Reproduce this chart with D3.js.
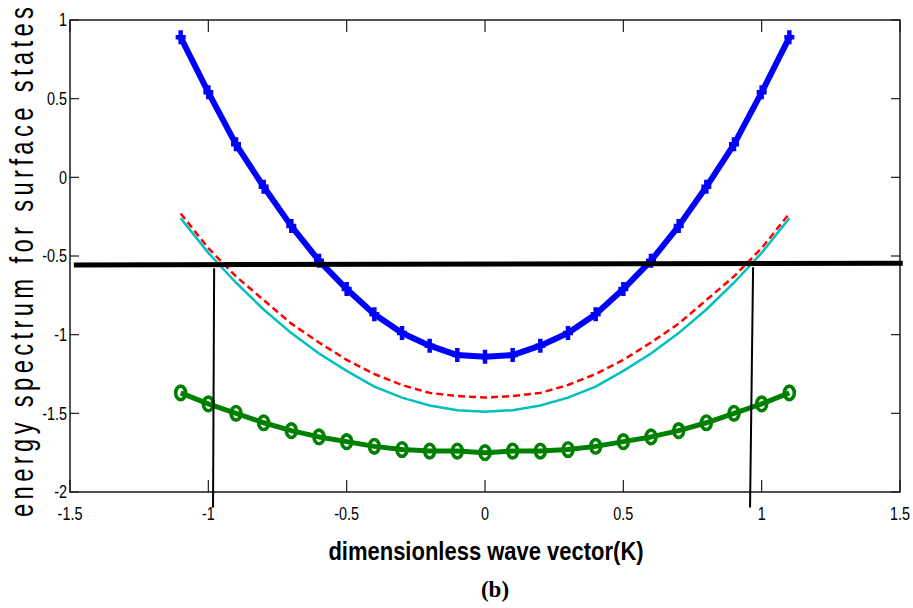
<!DOCTYPE html>
<html>
<head>
<meta charset="utf-8">
<script src="https://cdn.jsdelivr.net/npm/d3@7/dist/d3.min.js"></script>
<style>
  html, body { margin: 0; padding: 0; background: #fff; }
  svg { display: block; }
  .tick-label { font-family: "Liberation Sans", Arial, sans-serif; font-size: 18px; fill: #000; }
</style>
</head>
<body>
<svg id="chart" width="913" height="608"></svg>
<script>
// Wave vector samples
const kValues = [-1.1, -1.0, -0.9, -0.8, -0.7, -0.6, -0.5, -0.4, -0.3, -0.2, -0.1, 0,
                 0.1, 0.2, 0.3, 0.4, 0.5, 0.6, 0.7, 0.8, 0.9, 1.0, 1.1];

// Surface-state energy branches
const upperBranch = [0.89, 0.54, 0.21, -0.06, -0.31, -0.53, -0.71, -0.87, -0.99, -1.07, -1.13, -1.14,
                     -1.13, -1.07, -0.99, -0.87, -0.71, -0.53, -0.31, -0.06, 0.21, 0.54, 0.89];
const dashedBranch = [-0.23, -0.45, -0.63, -0.78, -0.93, -1.05, -1.16, -1.25, -1.32, -1.37, -1.39, -1.40,
                      -1.39, -1.37, -1.32, -1.25, -1.16, -1.05, -0.93, -0.78, -0.63, -0.45, -0.23];
const cyanBranch = [-0.26, -0.48, -0.67, -0.84, -0.99, -1.12, -1.23, -1.33, -1.40, -1.45, -1.48, -1.49,
                    -1.48, -1.45, -1.40, -1.33, -1.23, -1.12, -0.99, -0.84, -0.67, -0.48, -0.26];
const lowerBranch = [-1.37, -1.44, -1.50, -1.56, -1.61, -1.65, -1.68, -1.71, -1.73, -1.74, -1.74, -1.75,
                     -1.74, -1.74, -1.73, -1.71, -1.68, -1.65, -1.61, -1.56, -1.50, -1.44, -1.37];

// Fermi level line and the two crossing markers (in data units)
const fermiLine = [[-1.486, -0.557], [1.51, -0.546]];
const leftDrop = [[-0.979, -0.578], [-0.983, -2.098]];
const rightDrop = [[0.969, -0.572], [0.958, -2.098]];

// Axis ticks
const xTicks = [-1.5, -1, -0.5, 0, 0.5, 1, 1.5];
const yTicks = [1, 0.5, 0, -0.5, -1, -1.5, -2];

const margin = { left: 70, top: 20, right: 13, bottom: 116 };
const W = 913, H = 608;
const innerW = W - margin.left - margin.right;   // 830
const innerH = H - margin.top - margin.bottom;   // 472

const svg = d3.select("#chart");
const g = svg.append("g").attr("transform", `translate(${margin.left},${margin.top})`);

const x = d3.scaleLinear().domain([-1.5, 1.5]).range([0, innerW]);
const y = d3.scaleLinear().domain([-2, 1]).range([innerH, 0]);

const line = d3.line().x(d => x(d[0])).y(d => y(d[1]));
const zip = vals => kValues.map((k, i) => [k, vals[i]]);

// Condensed-looking text: horizontal squeeze of a regular sans face
const narrow = 0.8;

// Axis box with inward ticks on every side
const axisColor = "#1a1a1a";
g.append("rect").attr("x", 0).attr("y", 0).attr("width", innerW).attr("height", innerH)
  .attr("fill", "none").attr("stroke", axisColor).attr("stroke-width", 1.5);

const xTickLen = 12, yTickLen = 9;
xTicks.forEach(t => {
  g.append("line").attr("x1", x(t)).attr("x2", x(t)).attr("y1", innerH).attr("y2", innerH - xTickLen)
    .attr("stroke", axisColor).attr("stroke-width", 1.2);
  g.append("line").attr("x1", x(t)).attr("x2", x(t)).attr("y1", 0).attr("y2", xTickLen)
    .attr("stroke", axisColor).attr("stroke-width", 1.2);
  g.append("text").attr("class", "tick-label")
    .attr("transform", `translate(${x(t)},${innerH + 28}) scale(${narrow},1)`)
    .attr("text-anchor", "middle")
    .text(String(t));
});
yTicks.forEach(t => {
  g.append("line").attr("x1", 0).attr("x2", yTickLen).attr("y1", y(t)).attr("y2", y(t))
    .attr("stroke", axisColor).attr("stroke-width", 1.2);
  g.append("line").attr("x1", innerW).attr("x2", innerW - yTickLen).attr("y1", y(t)).attr("y2", y(t))
    .attr("stroke", axisColor).attr("stroke-width", 1.2);
  g.append("text").attr("class", "tick-label")
    .attr("transform", `translate(-3,${y(t)}) scale(${narrow},1)`)
    .attr("dy", "0.36em").attr("text-anchor", "end")
    .text(String(t));
});

// Cyan branch
g.append("path").datum(zip(cyanBranch)).attr("d", line)
  .attr("fill", "none").attr("stroke", "#00bfbf").attr("stroke-width", 2.5);

// Red dashed branch
g.append("path").datum(zip(dashedBranch)).attr("d", line)
  .attr("fill", "none").attr("stroke", "#ff0000").attr("stroke-width", 2.5)
  .attr("stroke-dasharray", "7,4");

// Upper branch with plus markers
const upper = zip(upperBranch);
g.append("path").datum(upper).attr("d", line)
  .attr("fill", "none").attr("stroke", "#0000ff").attr("stroke-width", 6)
  .attr("stroke-linejoin", "round");
g.selectAll(".plus").data(upper).enter().append("path")
  .attr("class", "plus")
  .attr("transform", d => `translate(${x(d[0])},${y(d[1])})`)
  .attr("d", "M0,-7V7M-5,0H5")
  .attr("stroke", "#0000ff").attr("stroke-width", 4.5).attr("fill", "none");

// Lower branch with circle markers
const lower = zip(lowerBranch);
g.append("path").datum(lower).attr("d", line)
  .attr("fill", "none").attr("stroke", "#008000").attr("stroke-width", 5)
  .attr("stroke-linejoin", "round");
g.selectAll(".ring").data(lower).enter().append("ellipse")
  .attr("class", "ring")
  .attr("cx", d => x(d[0])).attr("cy", d => y(d[1]))
  .attr("rx", 5).attr("ry", 6.8)
  .attr("fill", "none").attr("stroke", "#008000").attr("stroke-width", 3.6);

// Fermi level and drop lines
g.append("path").datum(fermiLine).attr("d", line)
  .attr("fill", "none").attr("stroke", "#000").attr("stroke-width", 5);
[leftDrop, rightDrop].forEach(seg => {
  g.append("path").datum(seg).attr("d", line)
    .attr("fill", "none").attr("stroke", "#000").attr("stroke-width", 2);
});

// Axis titles
const yTitleLen = 510;
svg.append("text")
  .attr("transform", `translate(33,262) rotate(-90) scale(0.72,1)`)
  .attr("text-anchor", "middle")
  .attr("textLength", yTitleLen / 0.72).attr("lengthAdjust", "spacing")
  .style("font-family", "'Liberation Sans', Arial, sans-serif")
  .style("font-size", "33px")
  .text("energy spectrum for surface states");

svg.append("text")
  .attr("transform", `translate(486,560) scale(0.88,1)`)
  .attr("text-anchor", "middle")
  .style("font-family", "'Liberation Sans', Arial, sans-serif")
  .style("font-size", "25px").style("font-weight", "bold")
  .text("dimensionless wave vector(K)");

svg.append("text")
  .attr("x", 495).attr("y", 597).attr("text-anchor", "middle")
  .style("font-family", "'Liberation Serif', 'Times New Roman', serif")
  .style("font-size", "23px").style("font-weight", "bold")
  .text("(b)");
</script>
</body>
</html>
